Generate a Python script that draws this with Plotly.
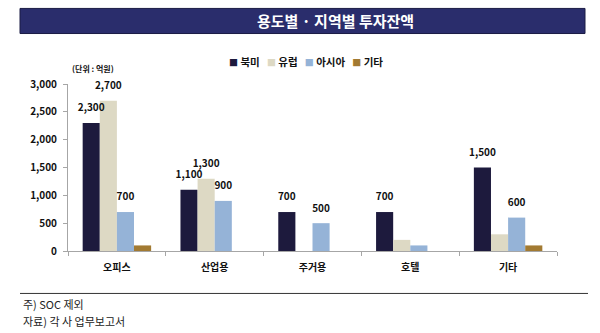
import plotly.graph_objects as go

# ---- data ----
categories = ["오피스", "산업용", "주거용", "호텔", "기타"]
series_names = ["북미", "유럽", "아시아", "기타"]
north_america = [2300, 1100, 700, 700, 1500]
europe = [2700, 1300, 0, 200, 300]
asia = [700, 900, 500, 100, 600]
others = [100, 0, 0, 0, 100]
# which values carry a data label (1 = shown)
label_na = [1, 1, 1, 1, 1]
label_eu = [1, 1, 0, 0, 0]
label_as = [1, 1, 1, 0, 1]
label_ot = [0, 0, 0, 0, 0]
y_ticks = [0, 500, 1000, 1500, 2000, 2500, 3000]

title_text = "용도별 · 지역별 투자잔액"
unit_text = "(단위 : 억원)"
note_lines = ["주) SOC 제외", "자료) 각 사 업무보고서"]

colors = ["#1D1A3D", "#DDD9C4", "#95B3D7", "#A27A32"]
FONT = "Noto Sans CJK KR"

# ---- layout geometry (pixels) ----
W, H = 600, 333
L, R, T, B = 68, 43, 84.3, 82.3


def px(x):
    return (x - L) / (W - L - R)


def py(y):
    return (H - B - y) / (H - T - B)


series = [north_america, europe, asia, others]
labels = [label_na, label_eu, label_as, label_ot]

fig = go.Figure()
for name, vals, col in zip(series_names, series, colors):
    fig.add_trace(go.Bar(
        x=categories, y=vals, name=name, marker=dict(color=col, line=dict(width=0)),
        showlegend=False, hoverinfo="x+y+name",
    ))

for name, vals, lab in zip(series_names, series, labels):
    fig.add_trace(go.Scatter(
        x=categories, y=vals, mode="markers+text",
        text=[f"{v:,}" if s else "" for v, s in zip(vals, lab)],
        textposition="top center",
        textfont=dict(family=FONT, size=10, color="#111111", weight="bold"),
        marker=dict(size=13, opacity=0),
        showlegend=False, hoverinfo="skip", cliponaxis=False,
    ))

shapes = [
    dict(type="rect", xref="paper", yref="paper",
         x0=px(20), x1=px(585), y0=py(34), y1=py(9),
         fillcolor="#2A2D6C", line=dict(color="#1B1C45", width=1), layer="below"),
    dict(type="line", xref="paper", yref="paper",
         x0=px(20), x1=px(588), y0=py(293), y1=py(293),
         line=dict(color="#333333", width=1)),
]

legend_html = "&nbsp;&nbsp;&nbsp;".join(
    f"<span style='color:{c};font-size:9px'>■</span> {n}" for c, n in zip(colors, series_names)
)

annotations = [
    dict(text=title_text, xref="paper", yref="paper", x=px(335), y=py(21.5),
         showarrow=False, xanchor="center", yanchor="middle",
         font=dict(family=FONT, size=15, color="white", weight="bold")),
    dict(text=legend_html, xref="paper", yref="paper", x=px(306), y=py(62),
         showarrow=False, xanchor="center", yanchor="middle",
         font=dict(family=FONT, size=10.5, color="#111111", weight="bold")),
    dict(text=unit_text, xref="paper", yref="paper", x=px(70), y=py(69),
         showarrow=False, xanchor="left", yanchor="middle",
         font=dict(family=FONT, size=8, color="#111111", weight="bold")),
]
for i, line in enumerate(note_lines):
    annotations.append(dict(
        text=line, xref="paper", yref="paper", x=px(21), y=py(304 + i * 16),
        showarrow=False, xanchor="left", yanchor="middle",
        font=dict(family=FONT, size=11, color="#222222")))

fig.update_layout(
    width=W, height=H,
    margin=dict(l=L, r=R, t=T, b=B, pad=0),
    paper_bgcolor="white", plot_bgcolor="white",
    barmode="group", bargap=0.3, bargroupgap=0,
    scattermode="group", scattergap=0.3,
    showlegend=False,
    shapes=shapes, annotations=annotations,
    font=dict(family=FONT, color="#111111"),
)
fig.update_xaxes(
    type="category", showline=True, linecolor="#A6A6A6", linewidth=1,
    ticks="outside", tickson="boundaries", ticklen=4, tickcolor="#A6A6A6",
    showgrid=False, zeroline=False,
    tickfont=dict(family=FONT, size=10, color="#111111", weight="bold"),
    ticklabelstandoff=7,
)
fig.update_yaxes(
    range=[0, 3000], tickvals=y_ticks, tickformat=",",
    showline=True, linecolor="#A6A6A6", linewidth=1,
    ticks="outside", ticklen=4, tickcolor="#A6A6A6",
    showgrid=False, zeroline=False,
    tickfont=dict(family=FONT, size=10, color="#111111", weight="bold"),
    ticklabelstandoff=4,
)

fig.write_html("out.html")
